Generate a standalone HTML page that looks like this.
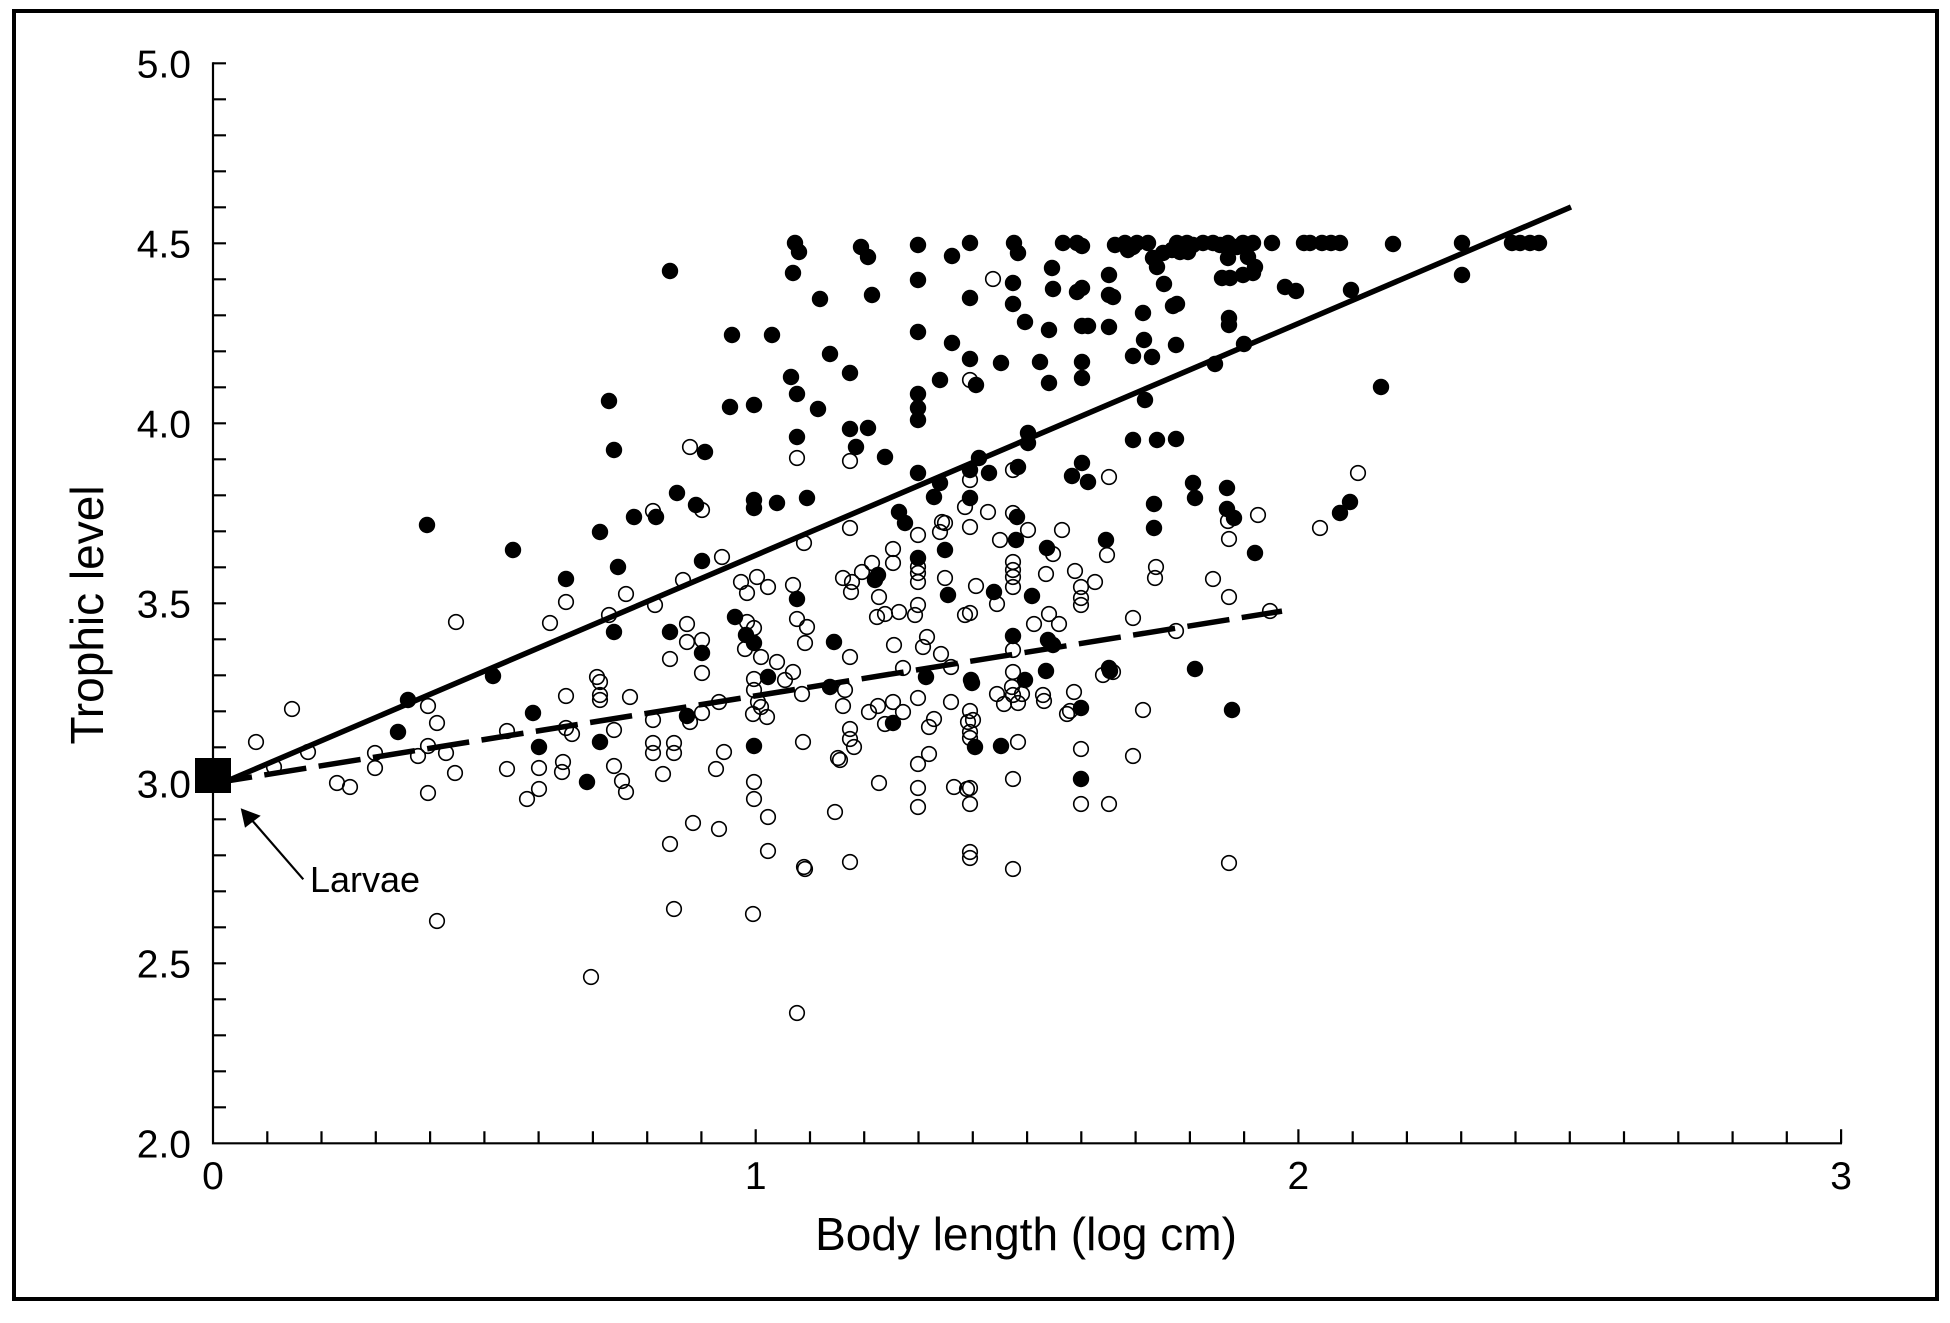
<!DOCTYPE html>
<html><head><meta charset="utf-8"><style>
html,body{margin:0;padding:0;background:#fff;}
svg{display:block;}
text{font-family:"Liberation Sans",Arial,sans-serif;fill:#000;}
.f{fill:#000;}
.o{fill:none;stroke:#000;stroke-width:1.6;}
</style></head><body>
<svg width="1950" height="1323" viewBox="0 0 1950 1323" xmlns="http://www.w3.org/2000/svg">
<rect x="0" y="0" width="1950" height="1323" fill="#fff"/>
<rect x="14" y="11" width="1923" height="1288" fill="none" stroke="#000" stroke-width="4"/>
<!-- axes -->
<path d="M213 62.3V1143.3H1842" fill="none" stroke="#000" stroke-width="2.2"/>
<path d="M213 63.3h13M213 99.3h13M213 135.3h13M213 171.3h13M213 207.3h13M213 243.3h13M213 279.3h13M213 315.3h13M213 351.3h13M213 387.3h13M213 423.3h13M213 459.3h13M213 495.3h13M213 531.3h13M213 567.3h13M213 603.3h13M213 639.3h13M213 675.3h13M213 711.3h13M213 747.3h13M213 783.3h13M213 819.3h13M213 855.3h13M213 891.3h13M213 927.3h13M213 963.3h13M213 999.3h13M213 1035.3h13M213 1071.3h13M213 1107.3h13" stroke="#000" stroke-width="2.2"/>
<path d="M267.3 1143.3v-12M321.5 1143.3v-12M375.8 1143.3v-12M430.1 1143.3v-12M484.4 1143.3v-12M538.6 1143.3v-12M592.9 1143.3v-12M647.2 1143.3v-12M701.4 1143.3v-12M755.7 1143.3v-14M810 1143.3v-12M864.2 1143.3v-12M918.5 1143.3v-12M972.8 1143.3v-12M1027.1 1143.3v-12M1081.3 1143.3v-12M1135.6 1143.3v-12M1189.9 1143.3v-12M1244.1 1143.3v-12M1298.4 1143.3v-14M1352.7 1143.3v-12M1406.9 1143.3v-12M1461.2 1143.3v-12M1515.5 1143.3v-12M1569.8 1143.3v-12M1624 1143.3v-12M1678.3 1143.3v-12M1732.6 1143.3v-12M1786.8 1143.3v-12M1841.1 1143.3v-14" stroke="#000" stroke-width="2.2"/>
<!-- tick labels -->
<g font-size="39" text-anchor="end">
<text x="191" y="77.3">5.0</text>
<text x="191" y="257.3">4.5</text>
<text x="191" y="437.3">4.0</text>
<text x="191" y="617.3">3.5</text>
<text x="191" y="797.3">3.0</text>
<text x="191" y="977.3">2.5</text>
<text x="191" y="1157.3">2.0</text>
</g>
<g font-size="39" text-anchor="middle">
<text x="213" y="1189">0</text>
<text x="755.7" y="1189">1</text>
<text x="1298.4" y="1189">2</text>
<text x="1841.1" y="1189">3</text>
</g>
<text x="1026" y="1250" font-size="46" text-anchor="middle">Body length (log cm)</text>
<text transform="translate(103,615) rotate(-90)" font-size="46" text-anchor="middle">Trophic level</text>

<!-- filled points -->
<g class="f">
<circle r="8.2" cx="795" cy="243"/><circle r="8.2" cx="799" cy="252"/><circle r="8.2" cx="793" cy="273"/><circle r="8.2" cx="861" cy="247"/><circle r="8.2" cx="868" cy="257"/><circle r="8.2" cx="670" cy="271"/><circle r="8.2" cx="820" cy="299"/><circle r="8.2" cx="872" cy="295"/><circle r="8.2" cx="732" cy="335"/><circle r="8.2" cx="772" cy="335"/><circle r="8.2" cx="830" cy="354"/><circle r="8.2" cx="850" cy="373"/><circle r="8.2" cx="791" cy="377"/><circle r="8.2" cx="797" cy="394"/><circle r="8.2" cx="818" cy="409"/><circle r="8.2" cx="609" cy="401"/><circle r="8.2" cx="730" cy="407"/><circle r="8.2" cx="754" cy="405"/><circle r="8.2" cx="850" cy="429"/><circle r="8.2" cx="868" cy="428"/><circle r="8.2" cx="797" cy="437"/><circle r="8.2" cx="856" cy="447"/><circle r="8.2" cx="885" cy="457"/><circle r="8.2" cx="614" cy="450"/><circle r="8.2" cx="705" cy="452"/><circle r="8.2" cx="677" cy="493"/><circle r="8.2" cx="696" cy="505"/><circle r="8.2" cx="634" cy="517"/><circle r="8.2" cx="656" cy="517"/><circle r="8.2" cx="754" cy="500"/><circle r="8.2" cx="754" cy="508"/><circle r="8.2" cx="777" cy="503"/><circle r="8.2" cx="807" cy="498"/><circle r="8.2" cx="600" cy="532"/><circle r="8.2" cx="899" cy="512"/><circle r="8.2" cx="905" cy="523"/>
<circle r="8.2" cx="918" cy="245"/><circle r="8.2" cx="952" cy="256"/><circle r="8.2" cx="970" cy="243"/><circle r="8.2" cx="1014" cy="243"/><circle r="8.2" cx="1018" cy="253"/><circle r="8.2" cx="1063" cy="243"/><circle r="8.2" cx="1077" cy="243"/><circle r="8.2" cx="1082" cy="246"/><circle r="8.2" cx="1115" cy="245"/><circle r="8.2" cx="1125" cy="243"/><circle r="8.2" cx="1128" cy="250"/><circle r="8.2" cx="1137" cy="243"/><circle r="8.2" cx="1148" cy="243"/><circle r="8.2" cx="1153" cy="258"/><circle r="8.2" cx="1157" cy="267"/><circle r="8.2" cx="1163" cy="253"/><circle r="8.2" cx="1177" cy="243"/><circle r="8.2" cx="1187" cy="243"/><circle r="8.2" cx="1188" cy="252"/><circle r="8.2" cx="1203" cy="243"/><circle r="8.2" cx="1213" cy="243"/><circle r="8.2" cx="1228" cy="243"/><circle r="8.2" cx="1228" cy="258"/><circle r="8.2" cx="1243" cy="243"/><circle r="8.2" cx="1253" cy="243"/><circle r="8.2" cx="1248" cy="257"/><circle r="8.2" cx="1255" cy="267"/><circle r="8.2" cx="1222" cy="278"/><circle r="8.2" cx="1230" cy="278"/><circle r="8.2" cx="1243" cy="275"/><circle r="8.2" cx="1253" cy="273"/>
<circle r="8.2" cx="1133" cy="247"/><circle r="8.2" cx="1172" cy="250"/><circle r="8.2" cx="1180" cy="252"/><circle r="8.2" cx="1193" cy="245"/><circle r="8.2" cx="1220" cy="245"/><circle r="8.2" cx="1237" cy="247"/>
<circle r="8.2" cx="918" cy="280"/><circle r="8.2" cx="1013" cy="283"/><circle r="8.2" cx="1052" cy="268"/><circle r="8.2" cx="1053" cy="289"/><circle r="8.2" cx="1077" cy="292"/><circle r="8.2" cx="1082" cy="288"/><circle r="8.2" cx="1109" cy="275"/><circle r="8.2" cx="1109" cy="295"/><circle r="8.2" cx="1113" cy="297"/><circle r="8.2" cx="1164" cy="284"/><circle r="8.2" cx="1173" cy="306"/><circle r="8.2" cx="1177" cy="304"/><circle r="8.2" cx="970" cy="298"/><circle r="8.2" cx="1013" cy="304"/><circle r="8.2" cx="1025" cy="322"/><circle r="8.2" cx="1049" cy="330"/><circle r="8.2" cx="1082" cy="326"/><circle r="8.2" cx="1088" cy="326"/><circle r="8.2" cx="1109" cy="327"/><circle r="8.2" cx="1143" cy="313"/><circle r="8.2" cx="1229" cy="318"/><circle r="8.2" cx="1229" cy="325"/><circle r="8.2" cx="918" cy="332"/><circle r="8.2" cx="952" cy="343"/><circle r="8.2" cx="1144" cy="340"/><circle r="8.2" cx="1133" cy="356"/><circle r="8.2" cx="1152" cy="357"/><circle r="8.2" cx="1176" cy="345"/><circle r="8.2" cx="1244" cy="344"/><circle r="8.2" cx="970" cy="359"/><circle r="8.2" cx="1001" cy="363"/><circle r="8.2" cx="1040" cy="362"/><circle r="8.2" cx="1082" cy="362"/><circle r="8.2" cx="1082" cy="378"/><circle r="8.2" cx="940" cy="380"/><circle r="8.2" cx="976" cy="385"/><circle r="8.2" cx="1049" cy="383"/><circle r="8.2" cx="918" cy="394"/><circle r="8.2" cx="918" cy="408"/><circle r="8.2" cx="918" cy="420"/><circle r="8.2" cx="1215" cy="364"/><circle r="8.2" cx="1145" cy="400"/><circle r="8.2" cx="1028" cy="433"/><circle r="8.2" cx="1028" cy="443"/><circle r="8.2" cx="979" cy="458"/><circle r="8.2" cx="1133" cy="440"/><circle r="8.2" cx="1157" cy="440"/><circle r="8.2" cx="1176" cy="439"/><circle r="8.2" cx="918" cy="473"/><circle r="8.2" cx="940" cy="483"/><circle r="8.2" cx="934" cy="497"/><circle r="8.2" cx="970" cy="470"/><circle r="8.2" cx="989" cy="473"/><circle r="8.2" cx="1018" cy="467"/><circle r="8.2" cx="1082" cy="463"/><circle r="8.2" cx="1072" cy="476"/><circle r="8.2" cx="1088" cy="482"/><circle r="8.2" cx="1193" cy="483"/><circle r="8.2" cx="1195" cy="498"/><circle r="8.2" cx="1227" cy="488"/><circle r="8.2" cx="1154" cy="504"/><circle r="8.2" cx="1227" cy="509"/><circle r="8.2" cx="1234" cy="518"/><circle r="8.2" cx="1154" cy="528"/><circle r="8.2" cx="970" cy="498"/><circle r="8.2" cx="1017" cy="517"/><circle r="8.2" cx="1016" cy="540"/><circle r="8.2" cx="1106" cy="540"/>
<circle r="8.2" cx="566" cy="579"/><circle r="8.2" cx="618" cy="567"/><circle r="8.2" cx="702" cy="561"/><circle r="8.2" cx="614" cy="632"/><circle r="8.2" cx="670" cy="632"/><circle r="8.2" cx="702" cy="653"/><circle r="8.2" cx="797" cy="599"/><circle r="8.2" cx="878" cy="575"/><circle r="8.2" cx="875" cy="580"/><circle r="8.2" cx="735" cy="617"/><circle r="8.2" cx="746" cy="635"/><circle r="8.2" cx="754" cy="643"/><circle r="8.2" cx="768" cy="677"/><circle r="8.2" cx="834" cy="642"/><circle r="8.2" cx="830" cy="687"/><circle r="8.2" cx="893" cy="723"/><circle r="8.2" cx="687" cy="716"/><circle r="8.2" cx="600" cy="742"/><circle r="8.2" cx="754" cy="746"/><circle r="8.2" cx="587" cy="782"/>
<circle r="8.2" cx="945" cy="550"/><circle r="8.2" cx="1047" cy="548"/><circle r="8.2" cx="1255" cy="553"/><circle r="8.2" cx="918" cy="558"/><circle r="8.2" cx="948" cy="595"/><circle r="8.2" cx="994" cy="592"/><circle r="8.2" cx="1032" cy="596"/><circle r="8.2" cx="1013" cy="636"/><circle r="8.2" cx="1048" cy="640"/><circle r="8.2" cx="1053" cy="645"/><circle r="8.2" cx="926" cy="677"/><circle r="8.2" cx="971" cy="680"/><circle r="8.2" cx="972" cy="683"/><circle r="8.2" cx="1025" cy="680"/><circle r="8.2" cx="1046" cy="671"/><circle r="8.2" cx="1109" cy="668"/><circle r="8.2" cx="1110" cy="671"/><circle r="8.2" cx="1195" cy="669"/><circle r="8.2" cx="1081" cy="708"/><circle r="8.2" cx="1232" cy="710"/><circle r="8.2" cx="975" cy="747"/><circle r="8.2" cx="1001" cy="746"/><circle r="8.2" cx="1081" cy="779"/>
<circle r="8.2" cx="408" cy="700"/><circle r="8.2" cx="493" cy="676"/><circle r="8.2" cx="398" cy="732"/><circle r="8.2" cx="533" cy="713"/><circle r="8.2" cx="539" cy="747"/><circle r="8.2" cx="427" cy="525"/><circle r="8.2" cx="513" cy="550"/>
<circle r="8.2" cx="1272" cy="243"/><circle r="8.2" cx="1285" cy="287"/><circle r="8.2" cx="1296" cy="291"/><circle r="8.2" cx="1304" cy="243"/><circle r="8.2" cx="1310" cy="243"/><circle r="8.2" cx="1322" cy="243"/><circle r="8.2" cx="1331" cy="243"/><circle r="8.2" cx="1340" cy="243"/><circle r="8.2" cx="1351" cy="290"/><circle r="8.2" cx="1393" cy="244"/><circle r="8.2" cx="1462" cy="243"/><circle r="8.2" cx="1462" cy="275"/><circle r="8.2" cx="1512" cy="243"/><circle r="8.2" cx="1520" cy="243"/><circle r="8.2" cx="1530" cy="243"/><circle r="8.2" cx="1539" cy="243"/><circle r="8.2" cx="1381" cy="387"/><circle r="8.2" cx="1350" cy="502"/><circle r="8.2" cx="1340" cy="513"/>
</g>

<!-- open points -->
<g class="o">
<circle r="7.3" cx="690" cy="447"/><circle r="7.3" cx="797" cy="458"/><circle r="7.3" cx="850" cy="461"/><circle r="7.3" cx="702" cy="510"/><circle r="7.3" cx="653" cy="511"/><circle r="7.3" cx="850" cy="528"/>
<circle r="7.3" cx="993" cy="279"/><circle r="7.3" cx="970" cy="380"/><circle r="7.3" cx="970" cy="480"/><circle r="7.3" cx="1013" cy="470"/><circle r="7.3" cx="1109" cy="477"/><circle r="7.3" cx="1228" cy="521"/><circle r="7.3" cx="1258" cy="515"/><circle r="7.3" cx="965" cy="507"/><circle r="7.3" cx="988" cy="512"/><circle r="7.3" cx="970" cy="527"/><circle r="7.3" cx="1013" cy="513"/><circle r="7.3" cx="1028" cy="530"/><circle r="7.3" cx="1062" cy="530"/><circle r="7.3" cx="942" cy="522"/><circle r="7.3" cx="945" cy="523"/><circle r="7.3" cx="940" cy="532"/><circle r="7.3" cx="918" cy="535"/><circle r="7.3" cx="1000" cy="540"/><circle r="7.3" cx="1229" cy="539"/>
<circle r="7.3" cx="804" cy="543"/><circle r="7.3" cx="566" cy="602"/><circle r="7.3" cx="626" cy="594"/><circle r="7.3" cx="722" cy="557"/><circle r="7.3" cx="683" cy="580"/><circle r="7.3" cx="655" cy="605"/><circle r="7.3" cx="609" cy="615"/><circle r="7.3" cx="550" cy="623"/><circle r="7.3" cx="687" cy="624"/><circle r="7.3" cx="687" cy="642"/><circle r="7.3" cx="702" cy="640"/><circle r="7.3" cx="670" cy="659"/><circle r="7.3" cx="702" cy="673"/><circle r="7.3" cx="741" cy="582"/><circle r="7.3" cx="757" cy="577"/><circle r="7.3" cx="747" cy="593"/><circle r="7.3" cx="768" cy="587"/><circle r="7.3" cx="793" cy="585"/><circle r="7.3" cx="843" cy="578"/><circle r="7.3" cx="852" cy="582"/><circle r="7.3" cx="851" cy="592"/><circle r="7.3" cx="862" cy="572"/><circle r="7.3" cx="872" cy="563"/><circle r="7.3" cx="893" cy="549"/><circle r="7.3" cx="893" cy="563"/><circle r="7.3" cx="879" cy="597"/><circle r="7.3" cx="877" cy="617"/><circle r="7.3" cx="885" cy="614"/><circle r="7.3" cx="899" cy="612"/><circle r="7.3" cx="797" cy="619"/><circle r="7.3" cx="807" cy="627"/><circle r="7.3" cx="805" cy="643"/><circle r="7.3" cx="747" cy="622"/><circle r="7.3" cx="754" cy="628"/><circle r="7.3" cx="745" cy="649"/><circle r="7.3" cx="761" cy="657"/><circle r="7.3" cx="777" cy="662"/><circle r="7.3" cx="793" cy="672"/><circle r="7.3" cx="785" cy="680"/><circle r="7.3" cx="850" cy="657"/><circle r="7.3" cx="894" cy="645"/><circle r="7.3" cx="903" cy="668"/><circle r="7.3" cx="597" cy="677"/><circle r="7.3" cx="600" cy="682"/><circle r="7.3" cx="600" cy="695"/><circle r="7.3" cx="600" cy="700"/><circle r="7.3" cx="566" cy="696"/><circle r="7.3" cx="630" cy="697"/><circle r="7.3" cx="754" cy="679"/><circle r="7.3" cx="754" cy="690"/><circle r="7.3" cx="753" cy="714"/><circle r="7.3" cx="758" cy="702"/><circle r="7.3" cx="761" cy="707"/><circle r="7.3" cx="767" cy="717"/><circle r="7.3" cx="802" cy="694"/><circle r="7.3" cx="845" cy="690"/><circle r="7.3" cx="843" cy="706"/><circle r="7.3" cx="869" cy="712"/><circle r="7.3" cx="878" cy="706"/><circle r="7.3" cx="893" cy="702"/><circle r="7.3" cx="903" cy="712"/><circle r="7.3" cx="885" cy="724"/><circle r="7.3" cx="653" cy="720"/><circle r="7.3" cx="690" cy="722"/><circle r="7.3" cx="702" cy="713"/><circle r="7.3" cx="719" cy="702"/><circle r="7.3" cx="566" cy="728"/><circle r="7.3" cx="572" cy="734"/><circle r="7.3" cx="614" cy="730"/><circle r="7.3" cx="653" cy="743"/><circle r="7.3" cx="653" cy="753"/><circle r="7.3" cx="674" cy="743"/><circle r="7.3" cx="674" cy="753"/><circle r="7.3" cx="724" cy="752"/><circle r="7.3" cx="803" cy="742"/><circle r="7.3" cx="850" cy="729"/><circle r="7.3" cx="850" cy="739"/><circle r="7.3" cx="854" cy="747"/><circle r="7.3" cx="838" cy="758"/><circle r="7.3" cx="840" cy="760"/><circle r="7.3" cx="563" cy="762"/><circle r="7.3" cx="562" cy="772"/><circle r="7.3" cx="614" cy="766"/><circle r="7.3" cx="622" cy="781"/><circle r="7.3" cx="626" cy="792"/><circle r="7.3" cx="663" cy="774"/><circle r="7.3" cx="716" cy="769"/><circle r="7.3" cx="754" cy="782"/><circle r="7.3" cx="754" cy="799"/><circle r="7.3" cx="879" cy="783"/><circle r="7.3" cx="693" cy="823"/><circle r="7.3" cx="719" cy="829"/><circle r="7.3" cx="768" cy="817"/><circle r="7.3" cx="835" cy="812"/><circle r="7.3" cx="670" cy="844"/><circle r="7.3" cx="768" cy="851"/><circle r="7.3" cx="804" cy="867"/><circle r="7.3" cx="805" cy="869"/><circle r="7.3" cx="850" cy="862"/>
<circle r="7.3" cx="1053" cy="554"/><circle r="7.3" cx="1107" cy="555"/><circle r="7.3" cx="918" cy="567"/><circle r="7.3" cx="918" cy="573"/><circle r="7.3" cx="918" cy="582"/><circle r="7.3" cx="945" cy="578"/><circle r="7.3" cx="976" cy="586"/><circle r="7.3" cx="997" cy="604"/><circle r="7.3" cx="1013" cy="562"/><circle r="7.3" cx="1013" cy="570"/><circle r="7.3" cx="1013" cy="577"/><circle r="7.3" cx="1013" cy="587"/><circle r="7.3" cx="1046" cy="574"/><circle r="7.3" cx="1075" cy="571"/><circle r="7.3" cx="1095" cy="582"/><circle r="7.3" cx="1081" cy="587"/><circle r="7.3" cx="1081" cy="598"/><circle r="7.3" cx="1081" cy="605"/><circle r="7.3" cx="1156" cy="567"/><circle r="7.3" cx="1155" cy="578"/><circle r="7.3" cx="1213" cy="579"/><circle r="7.3" cx="1229" cy="597"/><circle r="7.3" cx="918" cy="605"/><circle r="7.3" cx="915" cy="615"/><circle r="7.3" cx="965" cy="615"/><circle r="7.3" cx="970" cy="613"/><circle r="7.3" cx="1049" cy="614"/><circle r="7.3" cx="1034" cy="624"/><circle r="7.3" cx="1059" cy="624"/><circle r="7.3" cx="1133" cy="618"/><circle r="7.3" cx="1013" cy="650"/><circle r="7.3" cx="927" cy="637"/><circle r="7.3" cx="923" cy="647"/><circle r="7.3" cx="941" cy="654"/><circle r="7.3" cx="1176" cy="631"/><circle r="7.3" cx="951" cy="667"/><circle r="7.3" cx="1013" cy="672"/><circle r="7.3" cx="1103" cy="675"/><circle r="7.3" cx="1113" cy="672"/><circle r="7.3" cx="918" cy="698"/><circle r="7.3" cx="951" cy="702"/><circle r="7.3" cx="997" cy="694"/><circle r="7.3" cx="1012" cy="687"/><circle r="7.3" cx="1013" cy="695"/><circle r="7.3" cx="1022" cy="694"/><circle r="7.3" cx="1004" cy="704"/><circle r="7.3" cx="1018" cy="703"/><circle r="7.3" cx="1043" cy="695"/><circle r="7.3" cx="1044" cy="701"/><circle r="7.3" cx="1074" cy="692"/><circle r="7.3" cx="1067" cy="714"/><circle r="7.3" cx="1070" cy="711"/><circle r="7.3" cx="1143" cy="710"/><circle r="7.3" cx="970" cy="711"/><circle r="7.3" cx="973" cy="720"/><circle r="7.3" cx="968" cy="722"/><circle r="7.3" cx="934" cy="719"/><circle r="7.3" cx="929" cy="727"/><circle r="7.3" cx="970" cy="732"/><circle r="7.3" cx="970" cy="738"/><circle r="7.3" cx="1018" cy="742"/><circle r="7.3" cx="1081" cy="749"/><circle r="7.3" cx="1133" cy="756"/><circle r="7.3" cx="929" cy="754"/><circle r="7.3" cx="918" cy="764"/><circle r="7.3" cx="918" cy="788"/><circle r="7.3" cx="918" cy="807"/><circle r="7.3" cx="954" cy="787"/><circle r="7.3" cx="967" cy="789"/><circle r="7.3" cx="970" cy="788"/><circle r="7.3" cx="970" cy="804"/><circle r="7.3" cx="1013" cy="779"/><circle r="7.3" cx="1081" cy="804"/><circle r="7.3" cx="1109" cy="804"/><circle r="7.3" cx="970" cy="852"/><circle r="7.3" cx="970" cy="858"/><circle r="7.3" cx="1013" cy="869"/><circle r="7.3" cx="1229" cy="863"/>
<circle r="7.3" cx="292" cy="709"/><circle r="7.3" cx="256" cy="742"/><circle r="7.3" cx="274" cy="767"/><circle r="7.3" cx="308" cy="752"/><circle r="7.3" cx="428" cy="706"/><circle r="7.3" cx="437" cy="723"/><circle r="7.3" cx="337" cy="783"/><circle r="7.3" cx="350" cy="787"/><circle r="7.3" cx="375" cy="753"/><circle r="7.3" cx="375" cy="768"/><circle r="7.3" cx="418" cy="756"/><circle r="7.3" cx="428" cy="746"/><circle r="7.3" cx="446" cy="753"/><circle r="7.3" cx="455" cy="773"/><circle r="7.3" cx="428" cy="793"/><circle r="7.3" cx="507" cy="731"/><circle r="7.3" cx="507" cy="769"/><circle r="7.3" cx="539" cy="768"/><circle r="7.3" cx="539" cy="789"/><circle r="7.3" cx="527" cy="799"/><circle r="7.3" cx="437" cy="921"/><circle r="7.3" cx="591" cy="977"/>
<circle r="7.3" cx="456" cy="622"/><circle r="7.3" cx="674" cy="909"/><circle r="7.3" cx="753" cy="914"/><circle r="7.3" cx="797" cy="1013"/><circle r="7.3" cx="1358" cy="473"/><circle r="7.3" cx="1320" cy="528"/><circle r="7.3" cx="1270" cy="611"/>
</g>

<!-- regression lines -->
<line x1="213" y1="787" x2="1571" y2="207" stroke="#000" stroke-width="5.5"/>
<path d="M210 783.7L1282 611.1" fill="none" stroke="#000" stroke-width="5.5" stroke-dasharray="42.5 12.5"/>

<!-- larvae square -->
<rect x="195" y="758" width="36" height="35" fill="#000"/>

<!-- arrow + label -->
<line x1="303.3" y1="879.3" x2="250" y2="818" stroke="#000" stroke-width="2.2"/>
<polygon points="240.7,808.3 245,827.7 260.7,815.7" fill="#000"/>
<text x="310" y="892" font-size="36">Larvae</text>
</svg>
</body></html>
